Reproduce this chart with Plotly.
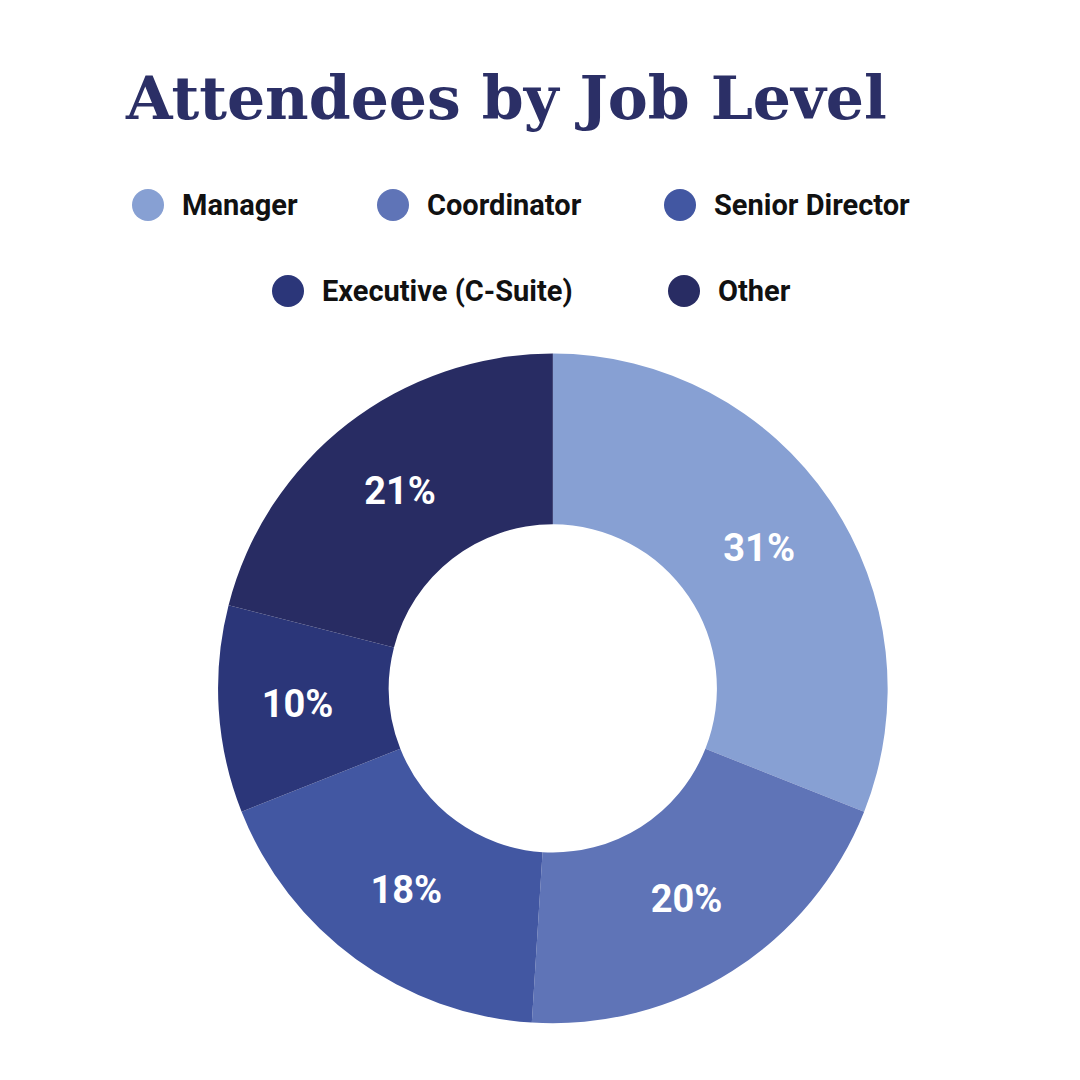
import plotly.graph_objects as go

categorias = ["Manager", "Coordinator", "Senior Director", "Executive (C-Suite)", "Other"]
valores = [31, 20, 18, 10, 21]
cores = ["#87a0d3", "#5f74b7", "#4257a2", "#2b3679", "#282c63"]

fig = go.Figure(go.Pie(
    labels=categorias,
    values=valores,
    hole=0.49,
    sort=False,
    direction="clockwise",
    rotation=0,
    marker=dict(colors=cores, line=dict(width=0)),
    texttemplate="%{percent:.0%}",
    textposition="inside",
    insidetextorientation="horizontal",
    textfont=dict(family="Roboto", size=38, color="white", weight="bold"),
    showlegend=False,
    domain=dict(x=[0.194, 0.815], y=[0.06, 0.68]),
))

# legenda manual em duas linhas centralizadas (pixels -> papel)
posicoes = [(140, 197), (385, 197), (672, 197), (280, 283), (676, 283)]
for nome, cor, (px_, py_) in zip(categorias, cores, posicoes):
    x = px_ / 1080
    y = 1 - py_ / 1080
    r = 16 / 1080
    fig.add_shape(type="circle", xref="paper", yref="paper",
                  x0=x - r, x1=x + r, y0=y - r, y1=y + r,
                  fillcolor=cor, line=dict(width=0))
    fig.add_annotation(text=nome, xref="paper", yref="paper",
                       x=x + 32 / 1080, y=y, xanchor="left", yanchor="middle",
                       showarrow=False,
                       font=dict(family="Roboto", size=29, color="#111111", weight="bold"))

fig.update_layout(
    width=1080, height=1080,
    margin=dict(l=0, r=0, t=0, b=0),
    paper_bgcolor="white", plot_bgcolor="white",
    title=dict(text="Attendees by Job Level", x=118 / 1080, xanchor="left",
               y=1 - 90 / 1080, yanchor="middle",
               font=dict(family="DejaVu Serif", size=60, color="#2b2f66", weight="bold")),
)

fig.write_html("out.html")
